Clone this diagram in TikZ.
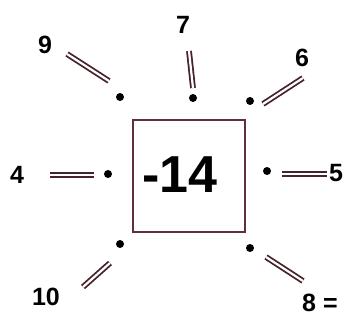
\documentclass[tikz,border=0pt]{standalone}
\usepackage{fontspec}
\setmainfont{Liberation Sans}
\usetikzlibrary{positioning}
\definecolor{lineink}{RGB}{70,35,42}
\definecolor{boxink}{RGB}{95,48,58}

\begin{document}
\begin{tikzpicture}[x=1pt,y=-1pt,
	lab/.style={font=\bfseries\fontsize{25}{25}\selectfont,inner sep=0pt},
	dot/.style={circle,fill=black,inner sep=0pt,minimum size=8pt},
	dbl/.style={draw=lineink,line width=1.8pt,double=white,double distance=2.2pt}]
	\useasboundingbox (0,0) rectangle (343,321);
	%\draw[color=gray,step=10pt,help lines,opacity=0.3] (0,0) grid (343,321); %help grid
	% the box and its number
	\node[draw=boxink,line width=2.2pt,minimum size=112pt,inner sep=0pt] (box) at (189,176) {};
	\node[font=\bfseries\fontsize{52}{52}\selectfont,inner sep=0pt] (num) at (180,175) {-14};
	% dots round the box
	\node[dot] (d9) at (120,97) {};
	\node[dot] (d7) at (193,98) {};
	\node[dot] (d6) at (250,101) {};
	\node[dot] (d4) at (108,174) {};
	\node[dot] (d5) at (267,171) {};
	\node[dot] (d10) at (120,244) {};
	\node[dot] (d8) at (250,248) {};
	% numbers
	\node[lab] (n9) at (45,45) {9};
	\node[lab] (n7) at (183,25) {7};
	\node[lab] (n6) at (302,58) {6};
	\node[lab] (n4) at (17,175) {4};
	\node[lab] (n5) at (336,173) {5};
	\node[lab] (n10) at (46,297) {10};
	\node[lab,anchor=west] (n8) at (302,303) {8 =};
	% double strokes
	\coordinate (a9) at (67,54);   \coordinate (b9) at (109,81);
	\coordinate (a7) at (189,51);  \coordinate (b7) at (193,88);
	\coordinate (a6) at (303,78);  \coordinate (b6) at (263,104);
	\coordinate (a4) at (50,175);  \coordinate (b4) at (94,175);
	\coordinate (a5) at (282,174); \coordinate (b5) at (327,174);
	\coordinate (a10) at (83,287); \coordinate (b10) at (110,263);
	\coordinate (a8) at (266,257); \coordinate (b8) at (303,281);
	\foreach \k in {9,7,6,4,5,10,8}
		\draw[dbl] (a\k)--(b\k);
\end{tikzpicture}
\end{document}
